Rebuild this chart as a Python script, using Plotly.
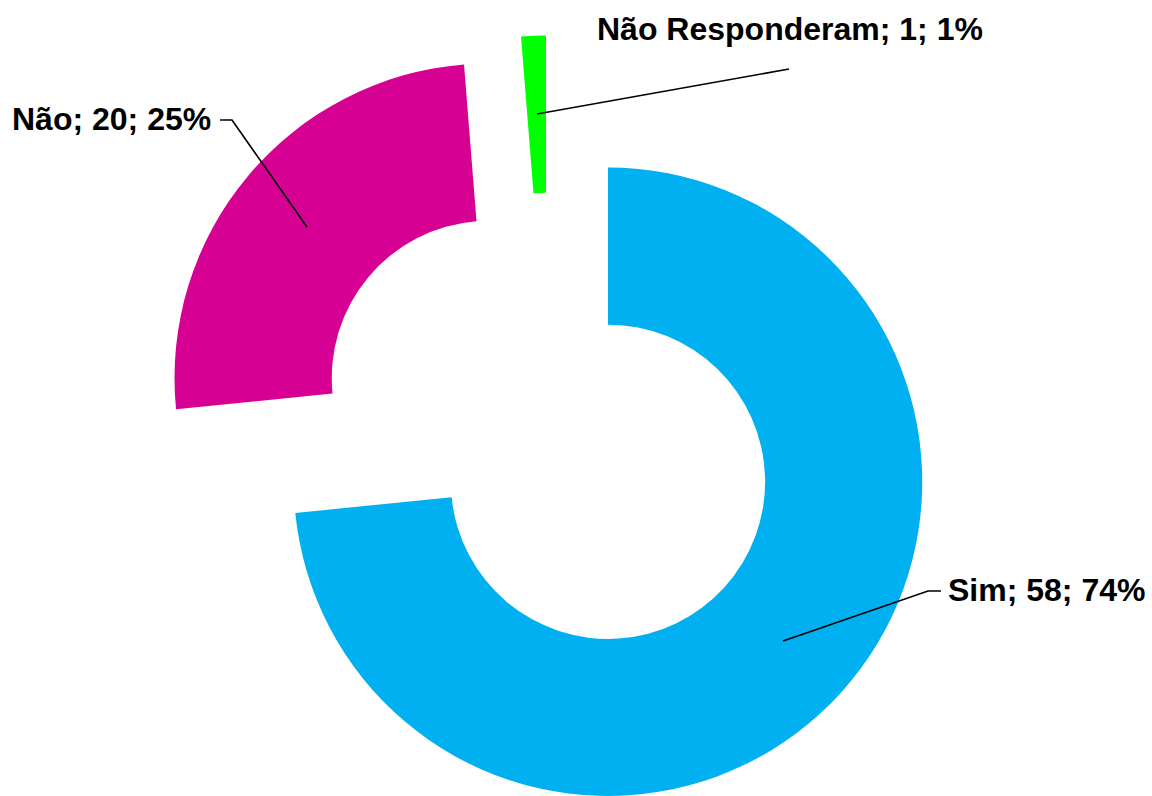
import plotly.graph_objects as go

# ---- data ----
categories = ["Sim", "Não", "Não Responderam"]
counts = [58, 20, 1]
percent_labels = ["74%", "25%", "1%"]
colors = ["#00B0F0", "#D60093", "#00FF00"]

# ---- layout constants (pixels) ----
W, H = 1152, 796
R = 314.5                     # outer radius in px
CENTER = (608, 482)           # centre of the un-exploded donut (px from top-left)
# explosion offsets of each slice (px)
OFFSETS = [(0, 0), (-119, -104), (-62, -132)]

def px_x(x):
    return x / W

def px_y(y):
    return 1 - y / H

fig = go.Figure()
for i, cat in enumerate(categories):
    cx = CENTER[0] + OFFSETS[i][0]
    cy = CENTER[1] + OFFSETS[i][1]
    ybot = H - cy
    slice_colors = [colors[j] if j == i else "rgba(0,0,0,0)" for j in range(len(categories))]
    fig.add_trace(go.Pie(
        labels=categories,
        values=counts,
        sort=False,
        direction="clockwise",
        rotation=0,
        hole=0.5,
        marker=dict(colors=slice_colors, line=dict(width=0)),
        textinfo="none",
        hoverinfo="label+value+percent",
        showlegend=False,
        domain=dict(
            x=[max(0, (cx - R) / W), min(1, (cx + R) / W)],
            y=[max(0, (ybot - R) / H), min(1, (ybot + R) / H)],
        ),
    ))

# labels and leader lines
label_specs = [
    # (text anchor x, y, xanchor, leader path points)
    (946, 590, "left", [(941, 591), (928, 591), (783, 641)]),
    (213, 119, "right", [(220, 120), (232, 120), (307, 227)]),
    (595, 29, "left", [(789, 69), (537, 114)]),
]
for i, (lx, ly, xa, pts) in enumerate(label_specs):
    fig.add_annotation(
        x=px_x(lx), y=px_y(ly), xref="paper", yref="paper",
        text=f"<b>{categories[i]}; {counts[i]}; {percent_labels[i]}</b>",
        showarrow=False, xanchor=xa, yanchor="middle",
        font=dict(family="Liberation Sans, Arial, sans-serif", size=32, color="#000000"),
    )
    path = "M " + " L ".join(f"{px_x(x)},{px_y(y)}" for x, y in pts)
    fig.add_shape(type="path", path=path, xref="paper", yref="paper",
                  line=dict(color="#000000", width=1.6))

fig.update_layout(
    width=W, height=H,
    margin=dict(l=0, r=0, t=0, b=0),
    paper_bgcolor="#FFFFFF",
    plot_bgcolor="#FFFFFF",
)

fig.write_html(
    "out.html",
    config={"displayModeBar": False},
    post_script="document.body.style.margin='0';document.body.style.padding='0';",
)
